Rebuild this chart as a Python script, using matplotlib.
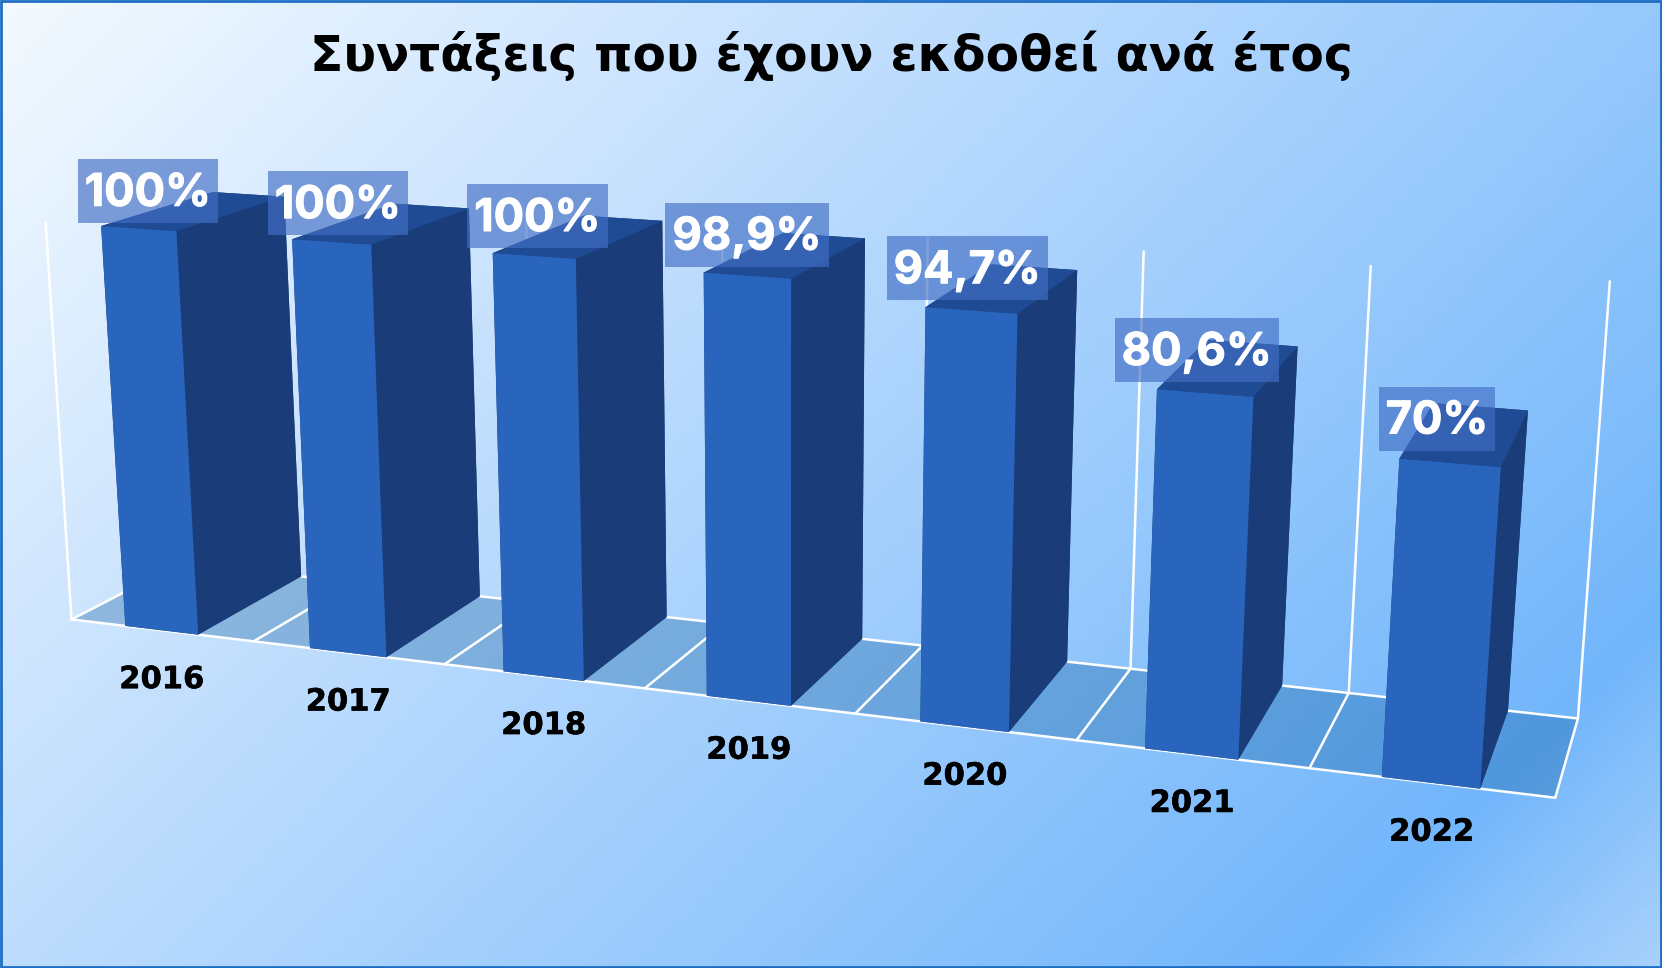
import numpy as np
import matplotlib
matplotlib.use("Agg")
import matplotlib.pyplot as plt
from matplotlib.colors import LinearSegmentedColormap
from matplotlib.patches import Rectangle
from matplotlib.path import Path
import matplotlib.patheffects as pe
from mpl_toolkits.mplot3d import proj3d
from mpl_toolkits.mplot3d.art3d import Poly3DCollection

# Datos del grafico
anios = ["2016", "2017", "2018", "2019", "2020", "2021", "2022"]
valores = [100, 100, 100, 98.9, 94.7, 80.6, 70]
etiquetas = ["100%", "100%", "100%", "98,9%", "94,7%", "80,6%", "70%"]
titulo = "Συντάξεις που έχουν εκδοθεί ανά έτος"

ANCHO, ALTO = 1662, 968
fig = plt.figure(figsize=(ANCHO / 100, ALTO / 100), dpi=100)


def caja(x0, y0, w, h, size):
    # Caja de etiqueta con mas relleno en vertical que en horizontal
    x0, y0, x1, y1 = x0 - 7, y0 - 8, x0 + w + 7, y0 + h + 14
    return Path([(x0, y0), (x1, y0), (x1, y1), (x0, y1), (x0, y0)], closed=True)


# Fondo con degradado diagonal
fondo = fig.add_axes([0, 0, 1, 1], zorder=0)
cmap = LinearSegmentedColormap.from_list(
    "fondo", [(0, "#F4FAFF"), (0.3, "#C8E2FE"), (0.87, "#72B6FB"), (1, "#A8D1FC")])
xx, yy = np.meshgrid(np.linspace(0, 1, 400), np.linspace(0, 1, 300))
fondo.imshow((xx * ANCHO + yy * ALTO) / (ANCHO + ALTO), cmap=cmap, vmin=0, vmax=1,
             extent=[0, ANCHO, ALTO, 0], aspect="auto")
fondo.add_patch(Rectangle((1, 1), ANCHO - 2, ALTO - 2, fill=False, ec="#1E6FC4", lw=2))
fondo.set_xlim(0, ANCHO)
fondo.set_ylim(ALTO, 0)
fondo.axis("off")

# Ejes 3D, la camara se ajusta para seguir la perspectiva del original
lado = 1573
ax = fig.add_axes([-21 / ANCHO, -302 / ALTO, lado / ANCHO, lado / ALTO],
                  projection="3d", zorder=1, computed_zorder=False)
ax.patch.set_alpha(0)
ax.set_box_aspect((1.843, 0.265, 0.513))
ax.set_proj_type("persp", focal_length=0.345)
ax.view_init(elev=14.8, azim=-70.3)
n = len(anios)
ax.set_xlim(0, n, view_margin=0)
ax.set_ylim(0, 1, view_margin=0)
ax.set_zlim(0, 100, view_margin=0)
ax.set_axis_off()

# Suelo y lineas blancas
suelo = [[(0, 0, 0), (n, 0, 0), (n, 1, 0), (0, 1, 0)]]
ax.add_collection3d(Poly3DCollection(suelo, facecolors=(0, 0.32, 0.59, 0.3),
                                     edgecolors="none", zorder=1))
blanco = dict(color="white", lw=1.8, zorder=2, solid_capstyle="round")
ax.plot([0, n], [0, 0], [0, 0], **blanco)
ax.plot([0, n], [1, 1], [0, 0], **blanco)
for i in range(n + 1):
    ax.plot([i, i], [0, 1], [0, 0], **blanco)
    ax.plot([i, i], [1, 1], [0, 100], **blanco)
ax.plot([0, 0], [0, 0], [0, 100], **blanco)

# Barras, de izquierda a derecha para que tapen bien
caras = ["#1F4B94", "#1F4B94", "#2A65BD", "#1A3D7A", "#1A3D7A", "#1A3D7A"]
for i, v in enumerate(valores):
    ax.bar3d(i + 0.3, 0, 0, 0.4, 1, v, color=caras, shade=False, zorder=3 + i)

for artista in list(ax.collections) + list(ax.lines):
    artista.set_clip_on(False)


def punto(x, y, z):
    # Proyecta un punto 3D a las coordenadas 2D del eje
    px, py, _ = proj3d.proj_transform(x, y, z, ax.get_proj())
    return px, py


# Etiquetas
for i, v in enumerate(valores):
    px, py = punto(i + 0.5 + (3 - i) * 0.02, 0, v + 8.5)
    ax.text2D(px, py, etiquetas[i], transform=ax.transData, color="white",
              fontsize=32.5, fontweight="bold", family="Inter", ha="center", va="center",
              zorder=20 + i,
              path_effects=[pe.withStroke(linewidth=0.7, foreground="white")],
              bbox=dict(boxstyle=caja, fc="#436FC5", ec="none", alpha=0.66))
    px, py = punto(i + 0.5 + (i - 3) * 0.005, 0, -12 + (i - 3) * 0.3)
    ax.text2D(px, py, anios[i], transform=ax.transData, color="black", fontsize=22,
              fontweight="bold", ha="center", va="center", zorder=40,
              path_effects=[pe.withStroke(linewidth=0.4, foreground="black")])

fig.text(831 / ANCHO, 1 - 56 / ALTO, titulo, fontsize=35, fontweight="bold",
         color="black", ha="center", va="center", zorder=5)

fig.savefig("out.png", dpi=100)
